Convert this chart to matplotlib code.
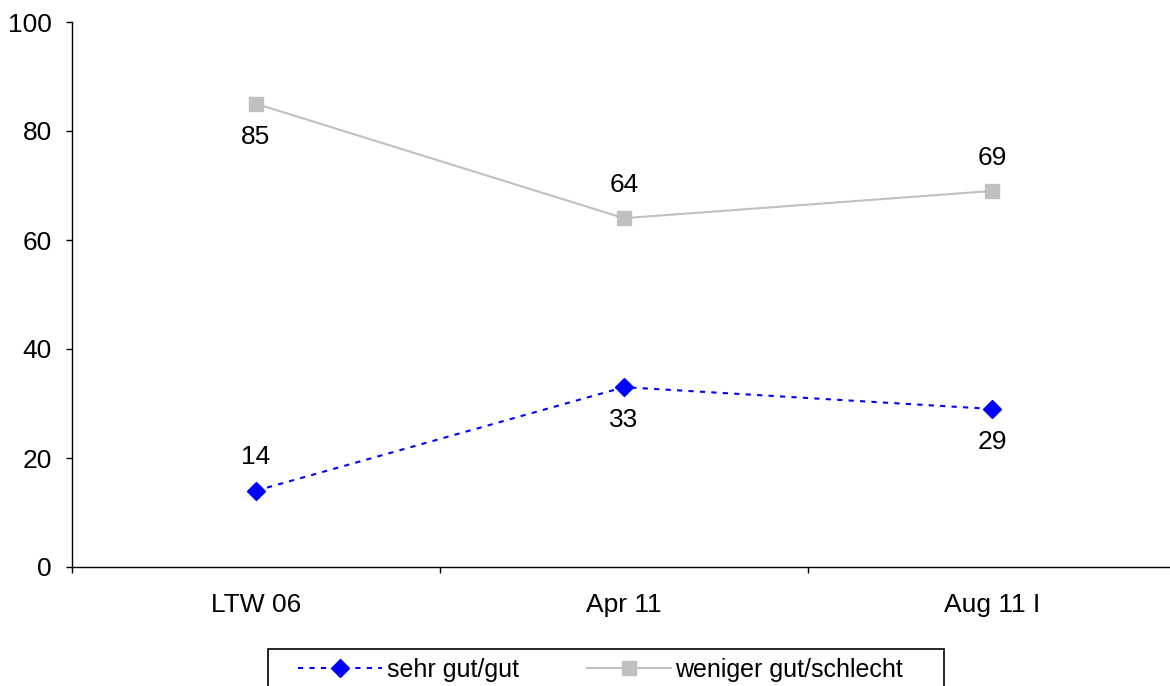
import matplotlib
matplotlib.use("Agg")
import matplotlib.pyplot as plt
from matplotlib.patches import Rectangle

categories = ["LTW 06", "Apr 11", "Aug 11 I"]
sehr_gut = [14, 33, 29]
weniger_gut = [85, 64, 69]
series_names = ["sehr gut/gut", "weniger gut/schlecht"]
yticks = [0, 20, 40, 60, 80, 100]

plt.rcParams['font.family'] = ['Liberation Sans', 'DejaVu Sans']
FS = 19
LFS = 18

fig = plt.figure(figsize=(11.7, 6.86), dpi=100)
ax = fig.add_axes([72/1170, 119/686, 1104/1170, 545/686])

x = list(range(len(categories)))
blue = "#0000FF"
gray = "#C0C0C0"
l1, = ax.plot(x, sehr_gut, color=blue, linestyle=(0, (2.5, 3)), linewidth=1.5,
              marker='D', markersize=9, label=series_names[0], zorder=3)
l2, = ax.plot(x, weniger_gut, color=gray, linestyle='-', linewidth=1.5,
              marker='s', markersize=10.5, label=series_names[1], zorder=3)

above_blue = [True, False, False]
above_gray = [False, True, True]
for xi, v, up in zip(x, sehr_gut, above_blue):
    ax.annotate(str(v), (xi, v), xytext=(0, 24 if up else -24), textcoords='offset points',
                ha='center', va='center', fontsize=FS)
for xi, v, up in zip(x, weniger_gut, above_gray):
    ax.annotate(str(v), (xi, v), xytext=(0, 24 if up else -24), textcoords='offset points',
                ha='center', va='center', fontsize=FS)

ax.set_xlim(-0.5, 2.5)
ax.set_ylim(0, 100)
ax.set_yticks(yticks)
ax.set_yticklabels([str(t) for t in yticks], fontsize=FS)
ax.set_xticks([-0.5, 0.5, 1.5, 2.5])
ax.set_xticklabels([])
ax.set_xticks(x, minor=True)
ax.set_xticklabels(categories, minor=True, fontsize=FS)
ax.tick_params(axis='x', which='minor', length=0, pad=19)
ax.tick_params(axis='x', which='major', length=4.5, direction='out', width=1)
ax.tick_params(axis='y', length=4.5, direction='out', width=1, pad=10)
for s in ['top', 'right']:
    ax.spines[s].set_visible(False)
for s in ['left', 'bottom']:
    ax.spines[s].set_linewidth(1)
    ax.spines[s].set_color('black')

# legend frame
fig.patches.append(Rectangle((268/1170, -0.05), (944-268)/1170, 0.05 + (686-649)/686,
                             transform=fig.transFigure, fill=False, edgecolor='black',
                             linewidth=1.2))
leg = fig.legend(handles=[l1, l2], loc='center left', bbox_to_anchor=(298/1170, 1 - 670/686),
                 ncol=2, fontsize=LFS, frameon=False, borderaxespad=0, borderpad=0,
                 columnspacing=2.7, handlelength=3.36, handletextpad=0.2)

fig.savefig("out.png", dpi=100)
